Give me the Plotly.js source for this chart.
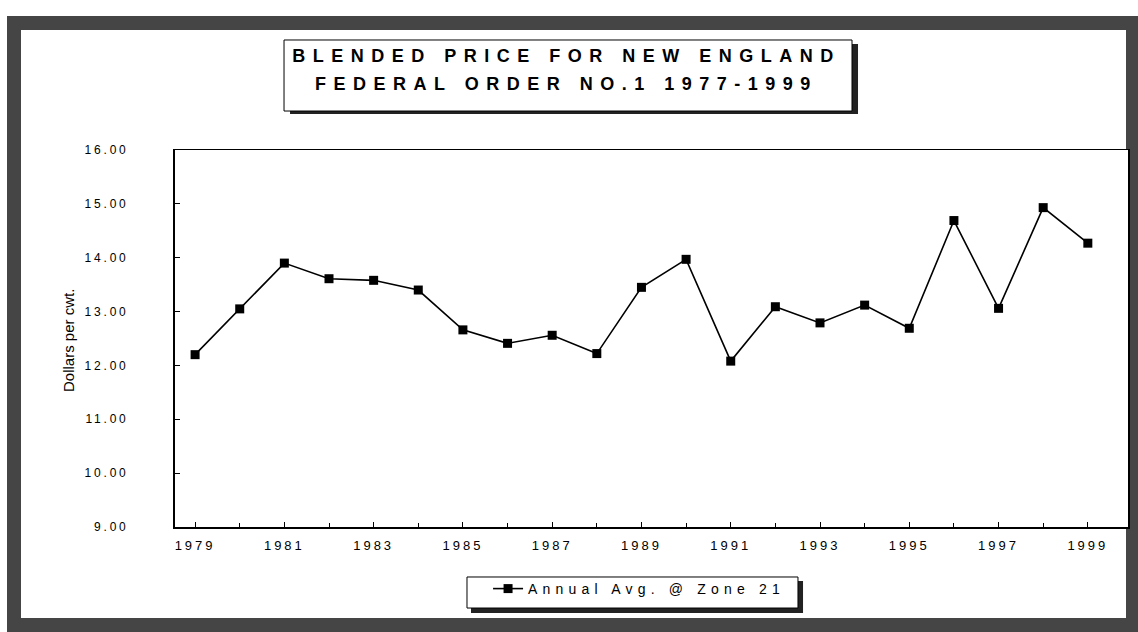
<!DOCTYPE html>
<html><head><meta charset="utf-8">
<script src="https://cdn.plot.ly/plotly-3.0.1.min.js"></script>
<style>
html,body{margin:0;padding:0;background:#fff;width:1138px;height:632px;overflow:hidden;position:relative;}
#frame{position:absolute;left:7px;top:16px;width:1133px;height:616px;border:14px solid #454545;box-sizing:border-box;background:#fff;}
#chart{position:absolute;left:0;top:0;width:1138px;height:632px;}
.xtick text{letter-spacing:3px;}
.ytick text{letter-spacing:2.8px;}
.legendtext{letter-spacing:5.2px;}
.annotation[data-index="0"] text,.annotation[data-index="1"] text{letter-spacing:7.5px;}
</style>
</head><body>
<div id="frame"></div>
<div id="chart"></div>
<script>
// Data
const years = [1979,1980,1981,1982,1983,1984,1985,1986,1987,1988,1989,1990,1991,1992,1993,1994,1995,1996,1997,1998,1999];
const blendPrice = [12.20,13.05,13.90,13.61,13.58,13.40,12.66,12.41,12.56,12.22,13.45,13.97,12.08,13.09,12.79,13.12,12.69,14.69,13.06,14.93,14.27];
const xTickVals = [1979,1981,1983,1985,1987,1989,1991,1993,1995,1997,1999];
const xTickText = ['1979','1981','1983','1985','1987','1989','1991','1993','1995','1997','1999'];
const yTickVals = [9,10,11,12,13,14,15,16];
const yTickText = ['9.00','10.00','11.00','12.00','13.00','14.00','15.00','16.00'];
const seriesName = 'Annual Avg. @ Zone 21';
const titleLines = ['BLENDED PRICE FOR NEW ENGLAND','FEDERAL ORDER NO.1 1977-1999'];
const yTitle = 'Dollars per cwt.';

const trace = {
  x: years, y: blendPrice, type: 'scatter', mode: 'lines+markers', name: seriesName,
  line: {color: '#000', width: 1.6},
  marker: {symbol: 'square', size: 9, color: '#000'}
};

const fontFam = 'Arial, "Liberation Sans", sans-serif';
const layout = {
  width: 1138, height: 632,
  margin: {l: 175, r: 10, t: 150, b: 105},
  paper_bgcolor: 'rgba(0,0,0,0)', plot_bgcolor: '#fff',
  font: {family: fontFam, color: '#000', size: 12},
  showlegend: true,
  legend: {x: 0.3285, y: -0.122, xanchor: 'left', yanchor: 'top', bgcolor: 'rgba(0,0,0,0)',
           borderwidth: 0, font: {size: 14, family: fontFam}},
  xaxis: {
    range: [1978.55, 1999.9], tickmode: 'array', tickvals: xTickVals, ticktext: xTickText,
    ticks: 'inside', ticklen: 5, tickwidth: 1, tickcolor: '#000',
    minor: {dtick: 1, tick0: 1979, ticks: 'inside', ticklen: 4, tickcolor: '#000'},
    showgrid: false, zeroline: false, showline: true, linecolor: '#000', linewidth: 1.5, mirror: true,
    ticklabelstandoff: 6, tickfont: {size: 13, family: fontFam}
  },
  yaxis: {
    range: [9, 16], tickmode: 'array', tickvals: yTickVals, ticktext: yTickText,
    ticks: 'inside', ticklen: 5, tickwidth: 1, tickcolor: '#000',
    showgrid: false, zeroline: false, showline: true, linecolor: '#000', linewidth: 2, mirror: true,
    ticklabelstandoff: 42, tickfont: {size: 12, family: fontFam}
  },
  shapes: [
    {type: 'rect', xref: 'paper', yref: 'paper', x0: 0.1207, x1: 0.7167, y0: 1.0955, y1: 1.2812, layer: 'above',
     fillcolor: '#222', line: {width: 0}},
    {type: 'rect', xref: 'paper', yref: 'paper', x0: 0.1144, x1: 0.7104, y0: 1.1034, y1: 1.2918, layer: 'above',
     fillcolor: '#fff', line: {color: '#000', width: 1}},
    {type: 'rect', xref: 'paper', yref: 'paper', x0: 0.3106, x1: 0.659, y0: -0.2281, y1: -0.1432, layer: 'above',
     fillcolor: '#222', line: {width: 0}},
    {type: 'rect', xref: 'paper', yref: 'paper', x0: 0.3064, x1: 0.6537, y0: -0.2149, y1: -0.1326, layer: 'above',
     fillcolor: '#fff', line: {color: '#000', width: 1}}
  ],
  annotations: [
    {text: titleLines[0], xref: 'paper', yref: 'paper', x: 0.4113, y: 1.2493,
     xanchor: 'center', yanchor: 'middle', showarrow: false,
     font: {size: 18, family: fontFam, weight: 'bold'}},
    {text: titleLines[1], xref: 'paper', yref: 'paper', x: 0.4113, y: 1.1751,
     xanchor: 'center', yanchor: 'middle', showarrow: false,
     font: {size: 18, family: fontFam, weight: 'bold'}},
    {text: yTitle, xref: 'paper', yref: 'paper', x: -0.1123, y: 0.496, textangle: -90,
     xanchor: 'center', yanchor: 'middle', showarrow: false, font: {size: 15, family: fontFam}}
  ]
};

Plotly.newPlot('chart', [trace], layout, {displayModeBar: false, staticPlot: true});
</script>
</body></html>
